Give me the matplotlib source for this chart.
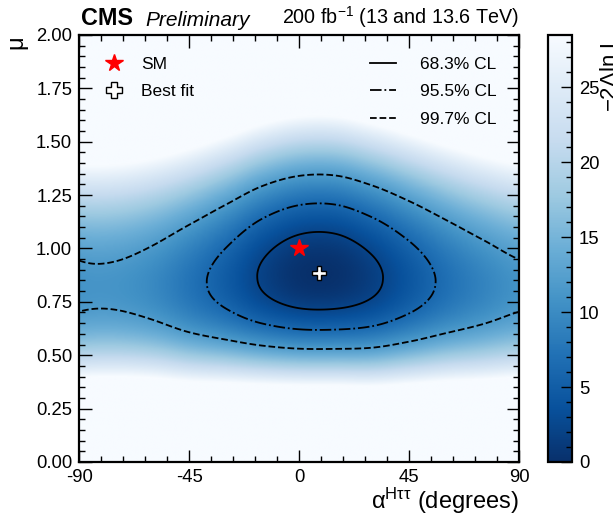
import numpy as np
import matplotlib
matplotlib.use("Agg")
import matplotlib.pyplot as plt
from matplotlib.lines import Line2D

plt.rcParams['font.family'] = ['Liberation Sans', 'DejaVu Sans']
plt.rcParams['mathtext.default'] = 'regular'
plt.rcParams['axes.unicode_minus'] = False

# profilo della verosimiglianza, per nodi in alpha
alpha_nodes = [-90, -75, -60, -45, -30, -15, 0, 15, 30, 45, 60, 75, 90]
qmin_nodes = [10.85, 10.95, 9.75, 7.4, 4.8, 1.95, 0.24, 0.17, 1.65, 4.2, 6.9, 9.1, 10.8]
mu0_nodes = [0.822, 0.825, 0.831, 0.838, 0.856, 0.874, 0.884, 0.884, 0.869, 0.857, 0.845, 0.831, 0.824]
# larghezza in mu sopra/sotto il minimo (scala, esponente)
sig_up, pow_up = 0.123, 1.87
sig_dn, pow_dn = 0.119, 2.25

sm_point = (0.0, 1.0)
best_fit = (8.2, 0.884)
cl_levels = [2.30, 6.18, 11.83]
cl_labels = ['68.3% CL', '95.5% CL', '99.7% CL']
cl_styles = ['solid', 'dashdot', 'dashed']
zmax = 28.5


def catmull_rom(xn, yn, x):
    # curva liscia che passa per i nodi letti (bordi periodici)
    xn = np.asarray(xn, float)
    yn = np.asarray(yn, float)
    h = xn[1] - xn[0]
    yp = np.concatenate([[yn[-2]], yn, [yn[1]]])
    i = np.clip(((x - xn[0]) // h).astype(int), 0, len(xn) - 2)
    t = (x - xn[i]) / h
    p0, p1, p2, p3 = yp[i], yp[i + 1], yp[i + 2], yp[i + 3]
    return 0.5 * (2 * p1 + (-p0 + p2) * t + (2 * p0 - 5 * p1 + 4 * p2 - p3) * t ** 2
                  + (-p0 + 3 * p1 - 3 * p2 + p3) * t ** 3)


alpha = np.linspace(-90, 90, 361)
mu = np.linspace(0, 2, 401)
qmin = catmull_rom(alpha_nodes, qmin_nodes, alpha)
mu0 = catmull_rom(alpha_nodes, mu0_nodes, alpha)

A, M = np.meshgrid(alpha, mu)
d = M - mu0[None, :]
q = np.where(d > 0, (np.abs(d) / sig_up) ** pow_up, (np.abs(d) / sig_dn) ** pow_dn)
q = q + qmin[None, :]

fig = plt.figure(figsize=(6.13, 5.19), dpi=100)
ax = fig.add_axes([0.129, 0.110, 0.718, 0.8226])
cax = fig.add_axes([0.894, 0.110, 0.039, 0.8226])

im = ax.imshow(q, extent=[-90, 90, 0, 2], origin='lower', aspect='auto',
               cmap='Blues_r', vmin=0, vmax=zmax, interpolation='bilinear')
ax.contour(alpha, mu, q, levels=cl_levels, colors='black',
           linestyles=cl_styles, linewidths=1.3)

ax.plot(*sm_point, marker='*', color='red', markersize=13, linestyle='none', zorder=5)
ax.plot(*best_fit, marker='P', markerfacecolor='white', markeredgecolor='black',
        markeredgewidth=1.0, markersize=10.5, linestyle='none', zorder=5)

ax.set_xlim(-90, 90)
ax.set_ylim(0, 2)
ax.set_xticks([-90, -45, 0, 45, 90])
ax.set_xticks(np.arange(-90, 91, 9), minor=True)
ax.set_yticks(np.arange(0, 2.01, 0.25))
ax.set_yticks(np.arange(0, 2.01, 0.05), minor=True)
ax.set_yticklabels(['%.2f' % v for v in np.arange(0, 2.01, 0.25)])
ax.tick_params(which='both', direction='in', top=True, right=True, labelsize=13.3, width=1.0)
ax.tick_params(which='major', length=9, pad=5)
ax.tick_params(which='minor', length=4.5)
for s in ax.spines.values():
    s.set_linewidth(1.6)

ax.set_xlabel(r'$\alpha^{H\tau\tau}$ (degrees)', fontsize=17, loc='right', labelpad=0)
ax.set_ylabel('μ', fontsize=17, loc='top', labelpad=6)

ax.text(0.005, 1.012, 'CMS', transform=ax.transAxes, fontsize=16.8, fontweight='bold',
        va='bottom', ha='left')
ax.text(0.15, 1.012, 'Preliminary', transform=ax.transAxes, fontsize=15, style='italic',
        va='bottom', ha='left')
ax.text(1.0, 1.012, r'200 fb$^{-1}$ (13 and 13.6 TeV)', transform=ax.transAxes,
        fontsize=14.2, va='bottom', ha='right')

h_pts = [Line2D([], [], marker='*', color='red', markersize=13, linestyle='none'),
         Line2D([], [], marker='P', markerfacecolor='white', markeredgecolor='black',
                markersize=11, linestyle='none')]
leg1 = ax.legend(h_pts, ['SM', 'Best fit'], loc='upper left', frameon=False,
                 fontsize=12.5, handlelength=1.5, labelspacing=0.7,
                 bbox_to_anchor=(0.015, 0.985))
ax.add_artist(leg1)
h_cl = [Line2D([], [], color='black', linestyle=ls, linewidth=1.3) for ls in cl_styles]
ax.legend(h_cl, cl_labels, loc='upper right', frameon=False, fontsize=12.5,
          handlelength=1.5, handletextpad=1.4, labelspacing=0.7,
          bbox_to_anchor=(0.985, 0.985))

cb = fig.colorbar(im, cax=cax)
cb.set_ticks([0, 5, 10, 15, 20, 25])
cb.ax.set_yticks(np.arange(0, 29, 1), minor=True)
cb.ax.tick_params(which='both', direction='in', labelsize=13.3, width=1.0)
cb.ax.tick_params(which='major', length=8, pad=5)
cb.ax.tick_params(which='minor', length=4)
cb.outline.set_linewidth(1.6)
fig.text(0.978, 0.933, r'$-2\Delta$ln L', rotation=90, fontsize=16, ha='left', va='top')

fig.savefig('out.png', dpi=100)
